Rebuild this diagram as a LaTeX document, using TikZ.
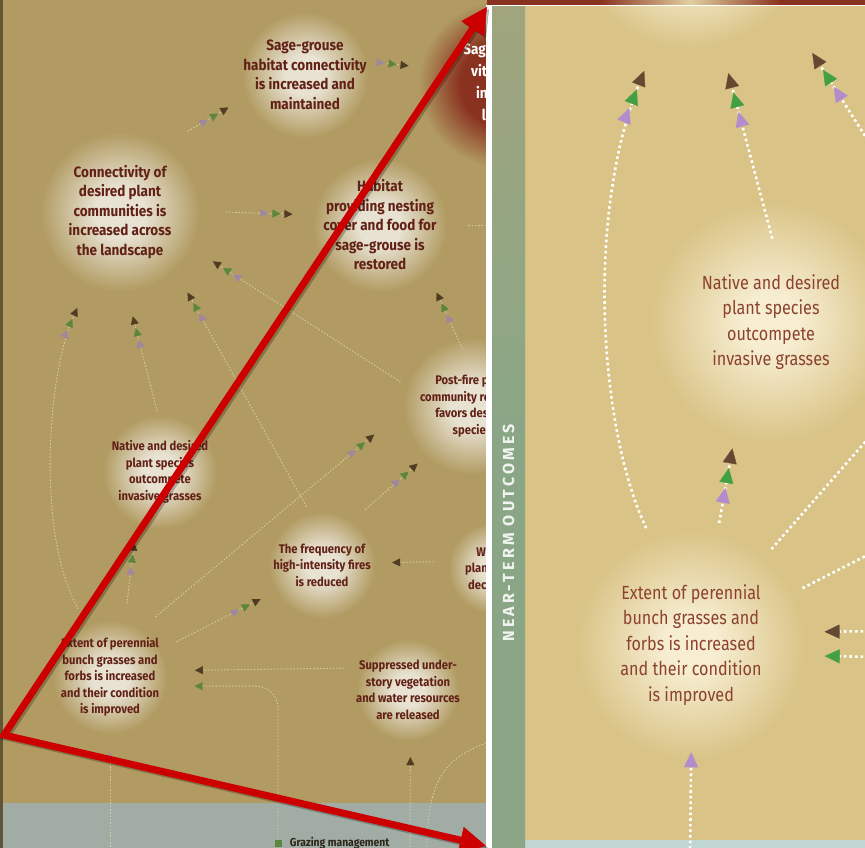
\documentclass[tikz,border=0pt]{standalone}
\usepackage{fontspec}
\newfontfamily\insetfont[FakeStretch=0.85]{Fira Sans}
\newfontfamily\panelfont[FakeStretch=0.9]{Fira Sans}
\newfontfamily\barfont[LetterSpace=20]{Fira Sans}
\usetikzlibrary{arrows.meta,positioning}

\definecolor{bgL}{RGB}{177,155,98}
\definecolor{bgI}{RGB}{217,195,134}
\definecolor{stripL}{RGB}{160,172,164}
\definecolor{stripI}{RGB}{192,214,208}
\definecolor{barG}{RGB}{139,166,134}
\definecolor{barO}{RGB}{160,165,125}
\definecolor{glowL}{RGB}{232,226,210}
\definecolor{glowI}{RGB}{247,238,210}
\definecolor{redc}{RGB}{138,50,32}
\definecolor{txtL}{RGB}{98,33,22}
\definecolor{txtI}{RGB}{140,66,46}
\definecolor{tipP}{RGB}{178,140,205}
\definecolor{tipG}{RGB}{66,160,66}
\definecolor{tipB}{RGB}{100,72,50}
\definecolor{tipPL}{RGB}{160,135,160}
\definecolor{tipGL}{RGB}{90,135,60}
\definecolor{tipBL}{RGB}{80,60,35}
\definecolor{lineL}{RGB}{215,203,165}
\definecolor{markred}{RGB}{204,0,0}

\pgfdeclareradialshading{glowleft}{\pgfpoint{0bp}{0bp}}{color(0bp)=(glowL); color(6bp)=(glowL); color(19bp)=(bgL); color(50bp)=(bgL)}
\pgfdeclareradialshading{glowred}{\pgfpoint{0bp}{0bp}}{color(0bp)=(redc); color(11bp)=(redc); color(22bp)=(bgL); color(50bp)=(bgL)}
\pgfdeclareradialshading{glowinset}{\pgfpoint{0bp}{0bp}}{color(0bp)=(glowI); color(5bp)=(glowI); color(23bp)=(bgI); color(50bp)=(bgI)}
\pgfdeclareradialshading{glowtop}{\pgfpoint{0bp}{0bp}}{color(0bp)=(glowI); color(8bp)=(glowI); color(20bp)=(bgI); color(50bp)=(bgI)}

\tikzset{
    panel node/.style = {
        circle, shade, shading=glowleft,
        text=txtL, align=center, inner sep=0pt,
        },
    big text/.style = {
        font=\panelfont\bfseries\fontsize{15}{19.5}\selectfont,
        },
    small text/.style = {
        font=\panelfont\bfseries\fontsize{12.5}{16.5}\selectfont,
        },
    inset node/.style = {
        circle, shade, shading=glowinset,
        text=txtI, align=center, inner sep=0pt,
        font=\insetfont\fontsize{19}{25.5}\selectfont,
        },
    flowL/.style = {
        draw=lineL, line width=0.9pt, dash pattern=on 1.5pt off 1.8pt,
        },
    flowI/.style = {
        draw=white, line width=2.6pt, dash pattern=on 2.6pt off 3pt,
        },
    tipsL/.style = {
        -{Triangle[color=tipPL,length=8pt,width=8pt,line width=0.3pt,sep=4pt]
          Triangle[color=tipGL,length=8pt,width=8pt,line width=0.3pt,sep=4pt]
          Triangle[color=tipBL,length=8pt,width=8pt,line width=0.3pt]},
        },
    brownL/.style = {-{Triangle[color=tipBL,length=8pt,width=8pt,line width=0.3pt]}},
    greenL/.style = {-{Triangle[color=tipGL,length=8pt,width=8pt,line width=0.3pt]}},
    purpleL/.style = {-{Triangle[color=tipPL,length=8pt,width=8pt,line width=0.3pt]}},
    tipsI/.style = {
        -{Triangle[color=tipP,length=15pt,width=14pt,line width=0.3pt,sep=5pt]
          Triangle[color=tipG,length=15pt,width=14pt,line width=0.3pt,sep=5pt]
          Triangle[color=tipB,length=15pt,width=14pt,line width=0.3pt]},
        },
    brownI/.style = {-{Triangle[color=tipB,length=15pt,width=14pt,line width=0.3pt]}},
    greenI/.style = {-{Triangle[color=tipG,length=15pt,width=14pt,line width=0.3pt]}},
    purpleI/.style = {-{Triangle[color=tipP,length=15pt,width=14pt,line width=0.3pt]}},
    zoom arrow/.style = {
        draw=markred, line width=7pt,
        {Triangle[length=26pt,width=27pt,line width=0.5pt]}-{Triangle[length=26pt,width=27pt,line width=0.5pt]},
        },
}

\begin{document}
\begin{tikzpicture}[x=1pt, y=-1pt]
    \useasboundingbox (0,0) rectangle (865,848);

    % left panel
    \begin{scope}
        \clip (0,0) rectangle (487,848);
        \fill[bgL] (0,0) rectangle (487,848);
        \fill[stripL] (0,803) rectangle (487,848);
        \fill[black!45!bgL] (0,0) rectangle (3,848);

        \node[circle, shade, shading=glowred, minimum size=190pt, inner sep=0pt,
              text=white, align=center, font=\panelfont\bfseries\fontsize{15}{22}\selectfont] (redc) at (502,84) {Sage-grouse\\vital rates\\increase\\locally};
        \node[panel node, big text, minimum size=166pt] (sage) at (305,75) {Sage-grouse\\habitat connectivity\\is increased and\\maintained};
        \node[panel node, big text, minimum size=210pt] (conn) at (120,212) {Connectivity of\\desired plant\\communities is\\increased across\\the landscape};
        \node[panel node, big text, minimum size=176pt] (habitat) at (380,225) {Habitat\\providing nesting\\cover and food for\\sage-grouse is\\restored};
        \node[panel node, small text, minimum size=180pt] (postfire) at (472,406) {Post-fire plant\\community recovery\\favors desired\\species};
        \node[panel node, small text, minimum size=150pt] (native) at (160,472) {Native and desired\\plant species\\outcompete\\invasive grasses};
        \node[panel node, small text, minimum size=140pt] (freq) at (322,565) {The frequency of\\high-intensity fires\\is reduced};
        \node[panel node, small text, minimum size=120pt] (woody) at (494,568) {Woody\\plant cover\\decreases};
        \node[panel node, small text, minimum size=150pt] (extent) at (110,677) {Extent of perennial\\bunch grasses and\\forbs is increased\\and their condition\\is improved};
        \node[panel node, small text, minimum size=134pt] (suppr) at (408,690) {Suppressed under-\\story vegetation\\and water resources\\are released};

        \node[fill=tipGL, minimum size=7pt, inner sep=0pt] (gsq) at (278,843) {};
        \node[right=8pt of gsq, inner sep=0pt, text=black!75!bgL,
              font=\panelfont\bfseries\fontsize{11.5}{12}\selectfont] (graze) {Grazing management};

        \coordinate (hab-out) at (500,225);
        \coordinate (src-a) at (110,860);
        \coordinate (src-b) at (410,860);
        \coordinate (src-c) at (427,860);
        \coordinate (out-c) at (500,738);

        % links between outcomes
        \draw[flowL, tipsL] (conn.50) -- (sage.203);
        \draw[flowL, tipsL] (conn.0) -- (habitat.173);
        \draw[flowL, tipsL] (sage.8) -- (redc.169);
        \draw[flowL] (habitat.0) -- (hab-out);
        \draw[flowL, tipsL, shorten <=-15pt] (native.95) -- (conn.277);
        \draw[flowL, tipsL] (extent.115) .. controls (38,540) and (45,380) .. (conn.246);
        \draw[flowL, tipsL, shorten <=-10pt] (freq.107) -- (conn.310);
        \draw[flowL, tipsL, shorten <=-15pt] (postfire.159) -- (conn.332);
        \draw[flowL, tipsL, shorten <=-33pt] (postfire.105) -- (habitat.310);
        \draw[flowL, tipsL, shorten >=13pt] (extent.53) -- (postfire.193);
        \draw[flowL, tipsL, shorten >=-11pt] (freq.52) -- (postfire.226);
        \draw[flowL, tipsL] (extent.28) -- (freq.209);
        \draw[flowL, tipsL] (extent.77) -- (native.250);
        \draw[flowL, brownL] (woody.174) -- (freq.2);
        \draw[flowL, brownL, shorten >=10pt] (suppr.161) -- (extent.5);

        % links from the strip below
        \draw[flowL, greenL, rounded corners=22pt, shorten >=10pt] (gsq.north) |- (extent.-7);
        \draw[flowL, purpleL] (src-a) -- (extent.270);
        \draw[flowL, brownL] (src-b) -- (suppr.272);
        \draw[flowL] (src-c) .. controls (425,770) and (450,755) .. (out-c);
    \end{scope}

    % zoomed inset
    \fill[redc] (487,0) rectangle (865,6);
    \shade[left color=redc, right color=bgI!80!white] (600,0) rectangle (690,6);
    \shade[left color=bgI!80!white, right color=redc] (690,0) rectangle (780,6);
    \fill[white] (486,5) rectangle (492,848);
    \fill[white] (486,5) rectangle (865,6.5);
    \begin{scope}
        \clip (492,6.5) rectangle (865,848);
        \fill[bgI] (492,6) rectangle (865,848);

        \node[inset node, shading=glowtop, minimum size=296pt] (topZ) at (690,-70) {};
        \node[inset node, minimum size=264pt] (nativeZ) at (771,322) {Native and desired\\plant species\\outcompete\\invasive grasses};
        \node[inset node, minimum size=250pt] (extentZ) at (691,645) {Extent of perennial\\bunch grasses and\\forbs is increased\\and their condition\\is improved};

        \fill[stripI] (492,840) rectangle (865,848);

        \coordinate (in-c) at (874,150);
        \coordinate (out-e) at (880,425);
        \coordinate (out-f) at (885,546);
        \coordinate (in-g) at (880,631);
        \coordinate (in-h) at (880,657);
        \coordinate (in-i) at (690,860);

        \draw[flowI, tipsI] (extentZ.111) .. controls (600,430) and (585,220) .. (topZ.252);
        \draw[flowI, tipsI, shorten <=-50pt] (nativeZ.95) -- (topZ.285);
        \draw[flowI, tipsI, shorten >=26pt] (in-c) -- (topZ.317);
        \draw[flowI, tipsI] (extentZ.77) -- (nativeZ.253);
        \draw[flowI] (extentZ.50) -- (out-e);
        \draw[flowI] (extentZ.27) -- (out-f);
        \draw[flowI, brownI, shorten >=9pt] (in-g) -- (extentZ.6);
        \draw[flowI, greenI, shorten >=9pt] (in-h) -- (extentZ.-5);
        \draw[flowI, purpleI, shorten >=-18pt] (in-i) -- (extentZ.270);

        \shade[top color=barO, bottom color=barG, middle color=barG] (492,6) rectangle (525,848);
        \node[rotate=90, text=white!88!barG, font=\barfont\bfseries\fontsize{16}{16}\selectfont] (bar) at (508.5,533) {NEAR-TERM OUTCOMES};
    \end{scope}

    % pointer from the panel to the inset
    \coordinate (pin) at (4,735);
    \coordinate (pin-top) at (487,7);
    \coordinate (pin-bot) at (486,846);
    \draw[zoom arrow, draw=black, opacity=.25, transform canvas={shift={(2pt,-2pt)}}] (pin-top) -- (pin) -- (pin-bot);
    \draw[zoom arrow] (pin-top) -- (pin) -- (pin-bot);
\end{tikzpicture}
\end{document}
